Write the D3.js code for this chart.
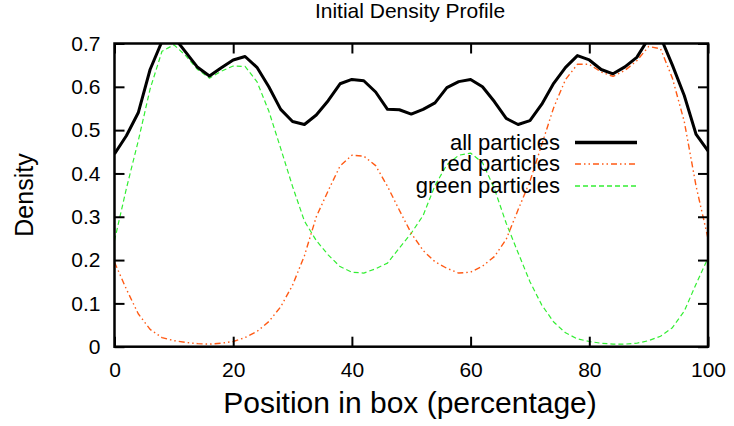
<!DOCTYPE html>
<html><head><meta charset="utf-8">
<script src="https://cdn.jsdelivr.net/npm/d3@7"></script>
<style>body{margin:0;background:#fff}svg{display:block;font-family:"Liberation Sans",Arial,sans-serif}</style>
</head><body>
<svg id="c" width="734" height="426"></svg>
<script>
const positions = d3.range(0, 101, 2);
const allParticles = [0.445,0.487,0.540,0.640,0.705,0.715,0.680,0.645,0.625,0.644,0.662,0.670,0.645,0.600,0.548,0.520,0.513,0.535,0.568,0.607,0.617,0.614,0.588,0.548,0.547,0.537,0.548,0.563,0.598,0.612,0.617,0.600,0.566,0.527,0.513,0.522,0.560,0.608,0.645,0.672,0.662,0.640,0.630,0.646,0.668,0.712,0.715,0.650,0.580,0.490,0.452];
const redParticles = [0.195,0.133,0.076,0.040,0.021,0.014,0.010,0.007,0.006,0.008,0.012,0.021,0.035,0.058,0.092,0.142,0.210,0.300,0.360,0.417,0.442,0.440,0.418,0.370,0.315,0.262,0.222,0.196,0.181,0.170,0.172,0.186,0.208,0.248,0.316,0.382,0.467,0.552,0.617,0.652,0.652,0.634,0.624,0.638,0.660,0.693,0.688,0.620,0.520,0.370,0.250];
const greenParticles = [0.245,0.365,0.475,0.595,0.682,0.697,0.672,0.640,0.620,0.636,0.648,0.647,0.612,0.544,0.458,0.370,0.290,0.245,0.212,0.185,0.172,0.170,0.180,0.193,0.228,0.262,0.303,0.372,0.420,0.442,0.447,0.425,0.365,0.285,0.217,0.150,0.096,0.057,0.032,0.018,0.012,0.008,0.006,0.006,0.008,0.014,0.024,0.044,0.082,0.145,0.205];
const xTicks = [0,20,40,60,80,100];
const yTicks = [0,0.1,0.2,0.3,0.4,0.5,0.6,0.7];
const seriesNames = ["all particles","red particles","green particles"];

const L=114.5, R=708, T=43.5, B=346.7;
const svg = d3.select("#c");
const x = d3.scaleLinear().domain([0,100]).range([L,R]);
const y = d3.scaleLinear().domain([0,0.7]).range([B,T]);

svg.append("defs").append("clipPath").attr("id","clip")
  .append("rect").attr("x",L).attr("y",T).attr("width",R-L).attr("height",B-T);

const series = [
  {name:seriesNames[0], vals:allParticles, color:"#000", width:3, dash:null},
  {name:seriesNames[1], vals:redParticles, color:"#ff5a14", width:1.4, dash:"6,3,1.5,3,1.5,3"},
  {name:seriesNames[2], vals:greenParticles, color:"#33ee33", width:1.2, dash:"5,3"}
];
const line = d3.line().x((d,i)=>x(positions[i])).y(d=>y(d));
const g = svg.append("g").attr("clip-path","url(#clip)");
[series[2],series[1],series[0]].forEach(s=>{
  g.append("path").datum(s.vals).attr("d",line).attr("fill","none")
   .attr("stroke",s.color).attr("stroke-width",s.width)
   .attr("stroke-dasharray",s.dash).attr("stroke-linejoin","round");
});

const FS = 21;
const tk = 10;
const axB = svg.append("g").attr("transform",`translate(0,${B})`)
  .call(d3.axisBottom(x).tickValues(xTicks).tickSize(-tk).tickPadding(15).tickFormat(d3.format("d")));
const axT = svg.append("g").attr("transform",`translate(0,${T})`)
  .call(d3.axisTop(x).tickValues(xTicks).tickSize(-tk).tickFormat(""));
const axL = svg.append("g").attr("transform",`translate(${L},0)`)
  .call(d3.axisLeft(y).tickValues(yTicks).tickSize(-tk).tickPadding(14).tickFormat(d=>d===0?"0":d3.format(".1f")(d)));
const axR = svg.append("g").attr("transform",`translate(${R},0)`)
  .call(d3.axisRight(y).tickValues(yTicks).tickSize(-tk).tickFormat(""));
[axB,axT,axL,axR].forEach(a=>{
  a.select(".domain").remove();
  a.selectAll(".tick line").attr("stroke","#000").attr("stroke-width",2);
  a.selectAll("text").attr("font-size",FS).attr("fill","#000").attr("font-family","Liberation Sans, Arial, sans-serif");
});
svg.append("rect").attr("x",L).attr("y",T).attr("width",R-L).attr("height",B-T)
  .attr("fill","none").attr("stroke","#000").attr("stroke-width",2.5);

// legend
const legY = [142.5,164,186];
series.forEach((s,i)=>{
  svg.append("text").attr("x",560).attr("y",legY[i]+7).attr("text-anchor","end")
    .attr("font-size",22).text(s.name);
  svg.append("line").attr("x1",575).attr("x2",637).attr("y1",legY[i]).attr("y2",legY[i])
    .attr("stroke",s.color).attr("stroke-width",s.width===3?3.5:s.width+0.3).attr("stroke-dasharray",s.dash);
});

// titles
svg.append("text").attr("x",410).attr("y",18).attr("text-anchor","middle").attr("font-size",21).text("Initial Density Profile");
svg.append("text").attr("x",410).attr("y",413).attr("text-anchor","middle").attr("font-size",30).text("Position in box (percentage)");
svg.append("text").attr("transform","translate(33,195) rotate(-90)").attr("text-anchor","middle").attr("font-size",25).text("Density");
</script>
</body></html>
